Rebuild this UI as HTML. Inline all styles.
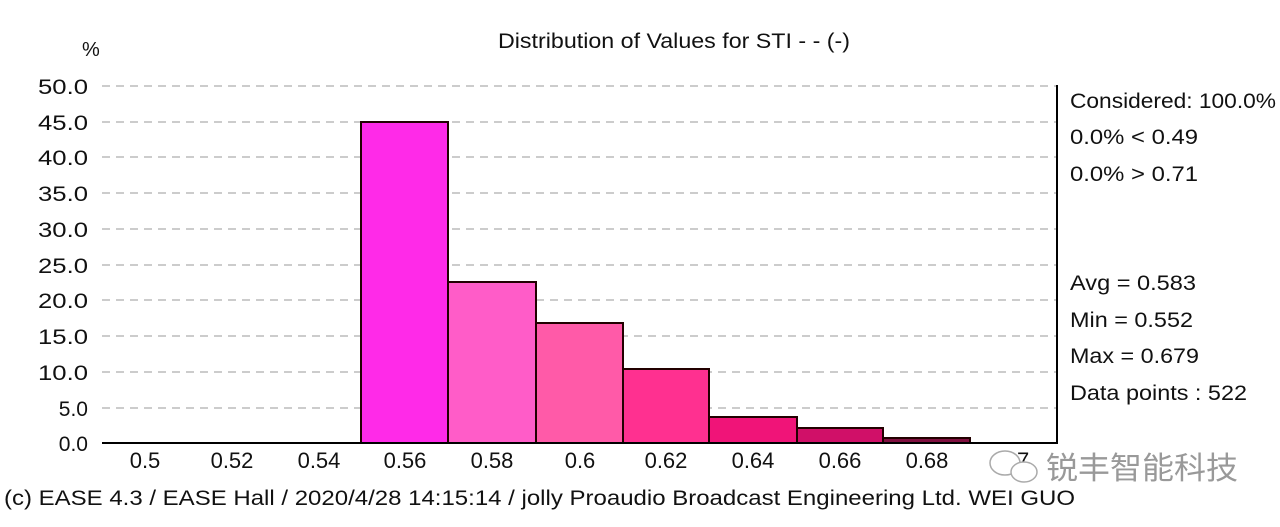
<!DOCTYPE html>
<html><head><meta charset="utf-8"><style>
body{margin:0;background:#fff;}
svg{display:block;}
text{font-family:"Liberation Sans","Noto Sans CJK SC",sans-serif;fill:#111;}
</style></head><body>
<svg width="1280" height="527" xmlns="http://www.w3.org/2000/svg">
<rect width="1280" height="527" fill="#fff"/>
<text x="82" y="56" font-size="20">%</text>
<text x="498" y="48" font-size="21" textLength="352" lengthAdjust="spacingAndGlyphs">Distribution of Values for STI  - - (-)</text>
<g stroke="#bbb" stroke-width="1.5" stroke-dasharray="8,6">
<line x1="102" y1="86" x2="1056" y2="86"/><line x1="102" y1="122" x2="1056" y2="122"/>
<line x1="102" y1="157" x2="1056" y2="157"/><line x1="102" y1="193" x2="1056" y2="193"/>
<line x1="102" y1="229" x2="1056" y2="229"/><line x1="102" y1="265" x2="1056" y2="265"/>
<line x1="102" y1="300" x2="1056" y2="300"/><line x1="102" y1="336" x2="1056" y2="336"/>
<line x1="102" y1="372" x2="1056" y2="372"/><line x1="102" y1="408" x2="1056" y2="408"/>
</g>
<g font-size="21" text-anchor="end">
<text x="88" y="94" textLength="50" lengthAdjust="spacingAndGlyphs">50.0</text><text x="88" y="130" textLength="50" lengthAdjust="spacingAndGlyphs">45.0</text><text x="88" y="165" textLength="50" lengthAdjust="spacingAndGlyphs">40.0</text>
<text x="88" y="201" textLength="50" lengthAdjust="spacingAndGlyphs">35.0</text><text x="88" y="237" textLength="50" lengthAdjust="spacingAndGlyphs">30.0</text><text x="88" y="273" textLength="50" lengthAdjust="spacingAndGlyphs">25.0</text>
<text x="88" y="308" textLength="50" lengthAdjust="spacingAndGlyphs">20.0</text><text x="88" y="344" textLength="50" lengthAdjust="spacingAndGlyphs">15.0</text><text x="88" y="380" textLength="50" lengthAdjust="spacingAndGlyphs">10.0</text>
<text x="88" y="416">5.0</text><text x="88" y="451">0.0</text>
</g>
<g stroke="#200" stroke-width="2">
<rect x="361" y="122" width="87" height="321" fill="#ff2ae8"/>
<rect x="448" y="282" width="88" height="161" fill="#ff5cc8"/>
<rect x="536" y="323" width="87" height="120" fill="#ff5aa8"/>
<rect x="623" y="369" width="86" height="74" fill="#ff3090"/>
<rect x="709" y="417" width="88" height="26" fill="#f01478"/>
<rect x="797" y="428" width="86" height="15" fill="#d01068"/>
<rect x="883" y="438" width="87" height="5" fill="#801040"/>
</g>
<line x1="102" y1="443" x2="1058" y2="443" stroke="#000" stroke-width="2"/>
<line x1="1057" y1="85" x2="1057" y2="443" stroke="#000" stroke-width="2"/>
<g font-size="22" text-anchor="middle">
<text x="145" y="468">0.5</text><text x="232" y="468">0.52</text><text x="319" y="468">0.54</text>
<text x="405" y="468">0.56</text><text x="492" y="468">0.58</text><text x="580" y="468">0.6</text>
<text x="666" y="468">0.62</text><text x="753" y="468">0.64</text><text x="840" y="468">0.66</text>
<text x="927" y="468">0.68</text><text x="1014" y="468">0.7</text>
</g>
<g font-size="21">
<text x="1070" y="108" textLength="206" lengthAdjust="spacingAndGlyphs">Considered: 100.0%</text>
<text x="1070" y="144" textLength="128" lengthAdjust="spacingAndGlyphs">0.0%  &lt; 0.49</text>
<text x="1070" y="181" textLength="128" lengthAdjust="spacingAndGlyphs">0.0%  &gt; 0.71</text>
<text x="1070" y="290" textLength="126" lengthAdjust="spacingAndGlyphs">Avg = 0.583</text>
<text x="1070" y="327" textLength="123" lengthAdjust="spacingAndGlyphs">Min = 0.552</text>
<text x="1070" y="363" textLength="129" lengthAdjust="spacingAndGlyphs">Max = 0.679</text>
<text x="1070" y="400" textLength="177" lengthAdjust="spacingAndGlyphs">Data points : 522</text>
<text x="4" y="505" textLength="1071" lengthAdjust="spacingAndGlyphs">(c) EASE 4.3  / EASE Hall  / 2020/4/28 14:15:14 / jolly Proaudio Broadcast Engineering Ltd. WEI GUO</text>
</g>
<g fill="#fff" stroke="#aaa" stroke-width="1.5">
<ellipse cx="1005" cy="463" rx="15" ry="12"/><ellipse cx="1024" cy="472" rx="13" ry="10"/>
</g>
<text x="1046" y="479" font-size="31" textLength="192" lengthAdjust="spacingAndGlyphs" style="fill:#999">锐丰智能科技</text>
</svg>
</body></html>
